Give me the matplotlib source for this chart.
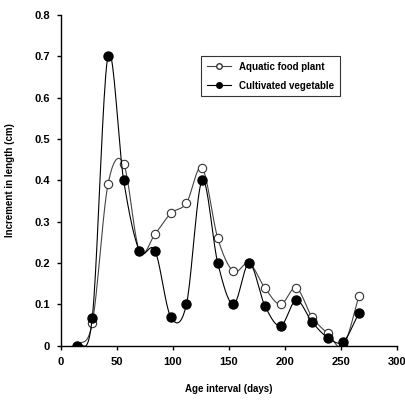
import matplotlib
matplotlib.use('Agg')
import matplotlib.pyplot as plt
import numpy as np

plt.rcParams['font.family'] = ['Liberation Sans Narrow', 'Liberation Sans', 'DejaVu Sans']

# Data
days = [14, 28, 42, 56, 70, 84, 98, 112, 126, 140, 154, 168, 182, 196, 210, 224, 238, 252, 266]
aquatic = [0.0, 0.055, 0.39, 0.44, 0.23, 0.27, 0.32, 0.345, 0.43, 0.26, 0.18, 0.20,
           0.14, 0.10, 0.14, 0.07, 0.03, 0.0, 0.12]
cultivated = [0.0, 0.068, 0.70, 0.40, 0.23, 0.23, 0.07, 0.10, 0.40, 0.20, 0.10, 0.20,
              0.097, 0.048, 0.11, 0.058, 0.02, 0.01, 0.08]


def smooth(x, y, n=20):
    # Catmull-Rom spline, similar to Excel's smoothed line
    x = np.asarray(x, float)
    y = np.asarray(y, float)
    px = np.concatenate([[2 * x[0] - x[1]], x, [2 * x[-1] - x[-2]]])
    py = np.concatenate([[2 * y[0] - y[1]], y, [2 * y[-1] - y[-2]]])
    xs, ys = [], []
    t = np.linspace(0, 1, n, endpoint=False)
    for i in range(1, len(px) - 2):
        for arr, out in ((px, xs), (py, ys)):
            p0, p1, p2, p3 = arr[i - 1], arr[i], arr[i + 1], arr[i + 2]
            out.extend(0.5 * (2 * p1 + (-p0 + p2) * t + (2 * p0 - 5 * p1 + 4 * p2 - p3) * t ** 2
                              + (-p0 + 3 * p1 - 3 * p2 + p3) * t ** 3))
    xs.append(x[-1])
    ys.append(y[-1])
    return xs, ys


fig = plt.figure(figsize=(4.06, 4.03), dpi=100)
ax = fig.add_axes([0.150, 0.142, 0.828, 0.821])

sx, sy = smooth(days, aquatic)
ax.plot(sx, sy, color='#444444', lw=0.8)
ax.plot(days, aquatic, 'o', mfc='white', mec='#333333', mew=0.8, ms=6, ls='none')

sx, sy = smooth(days, cultivated)
ax.plot(sx, sy, color='black', lw=0.8)
ax.plot(days, cultivated, 'o', color='black', ms=6.5, ls='none')

# legend handles
ax.plot([], [], '-o', color='#444444', mfc='white', mec='#333333', ms=4, lw=0.8, label='Aquatic food plant')
ax.plot([], [], '-o', color='black', ms=4, lw=0.8, label='Cultivated vegetable')
handles, labels = ax.get_legend_handles_labels()
leg = ax.legend(handles[-2:], labels[-2:], loc='upper left', bbox_to_anchor=(0.416, 0.876),
                prop={'size': 7, 'weight': 'bold'}, frameon=True, fancybox=False, edgecolor='black',
                handlelength=2.5, borderpad=0.6, labelspacing=0.9, borderaxespad=0)
leg.get_frame().set_linewidth(0.8)

ax.set_xlim(0, 300)
ax.set_ylim(0, 0.8)
ax.set_xticks([0, 50, 100, 150, 200, 250, 300])
ax.set_yticks([0, 0.1, 0.2, 0.3, 0.4, 0.5, 0.6, 0.7, 0.8])
ax.set_yticklabels(['0', '0.1', '0.2', '0.3', '0.4', '0.5', '0.6', '0.7', '0.8'])
for lab in ax.get_xticklabels() + ax.get_yticklabels():
    lab.set_fontweight('bold')
ax.tick_params(direction='out', length=3, width=1, labelsize=8, pad=5)
ax.spines['top'].set_visible(False)
ax.spines['right'].set_visible(False)
ax.spines['left'].set_linewidth(1)
ax.spines['bottom'].set_linewidth(1)
ax.set_xlabel('Age interval (days)', fontsize=7, fontweight='bold', labelpad=12)
ax.set_ylabel('Increment in length (cm)', fontsize=7, fontweight='bold', labelpad=14)

fig.savefig('out.png', dpi=100)
